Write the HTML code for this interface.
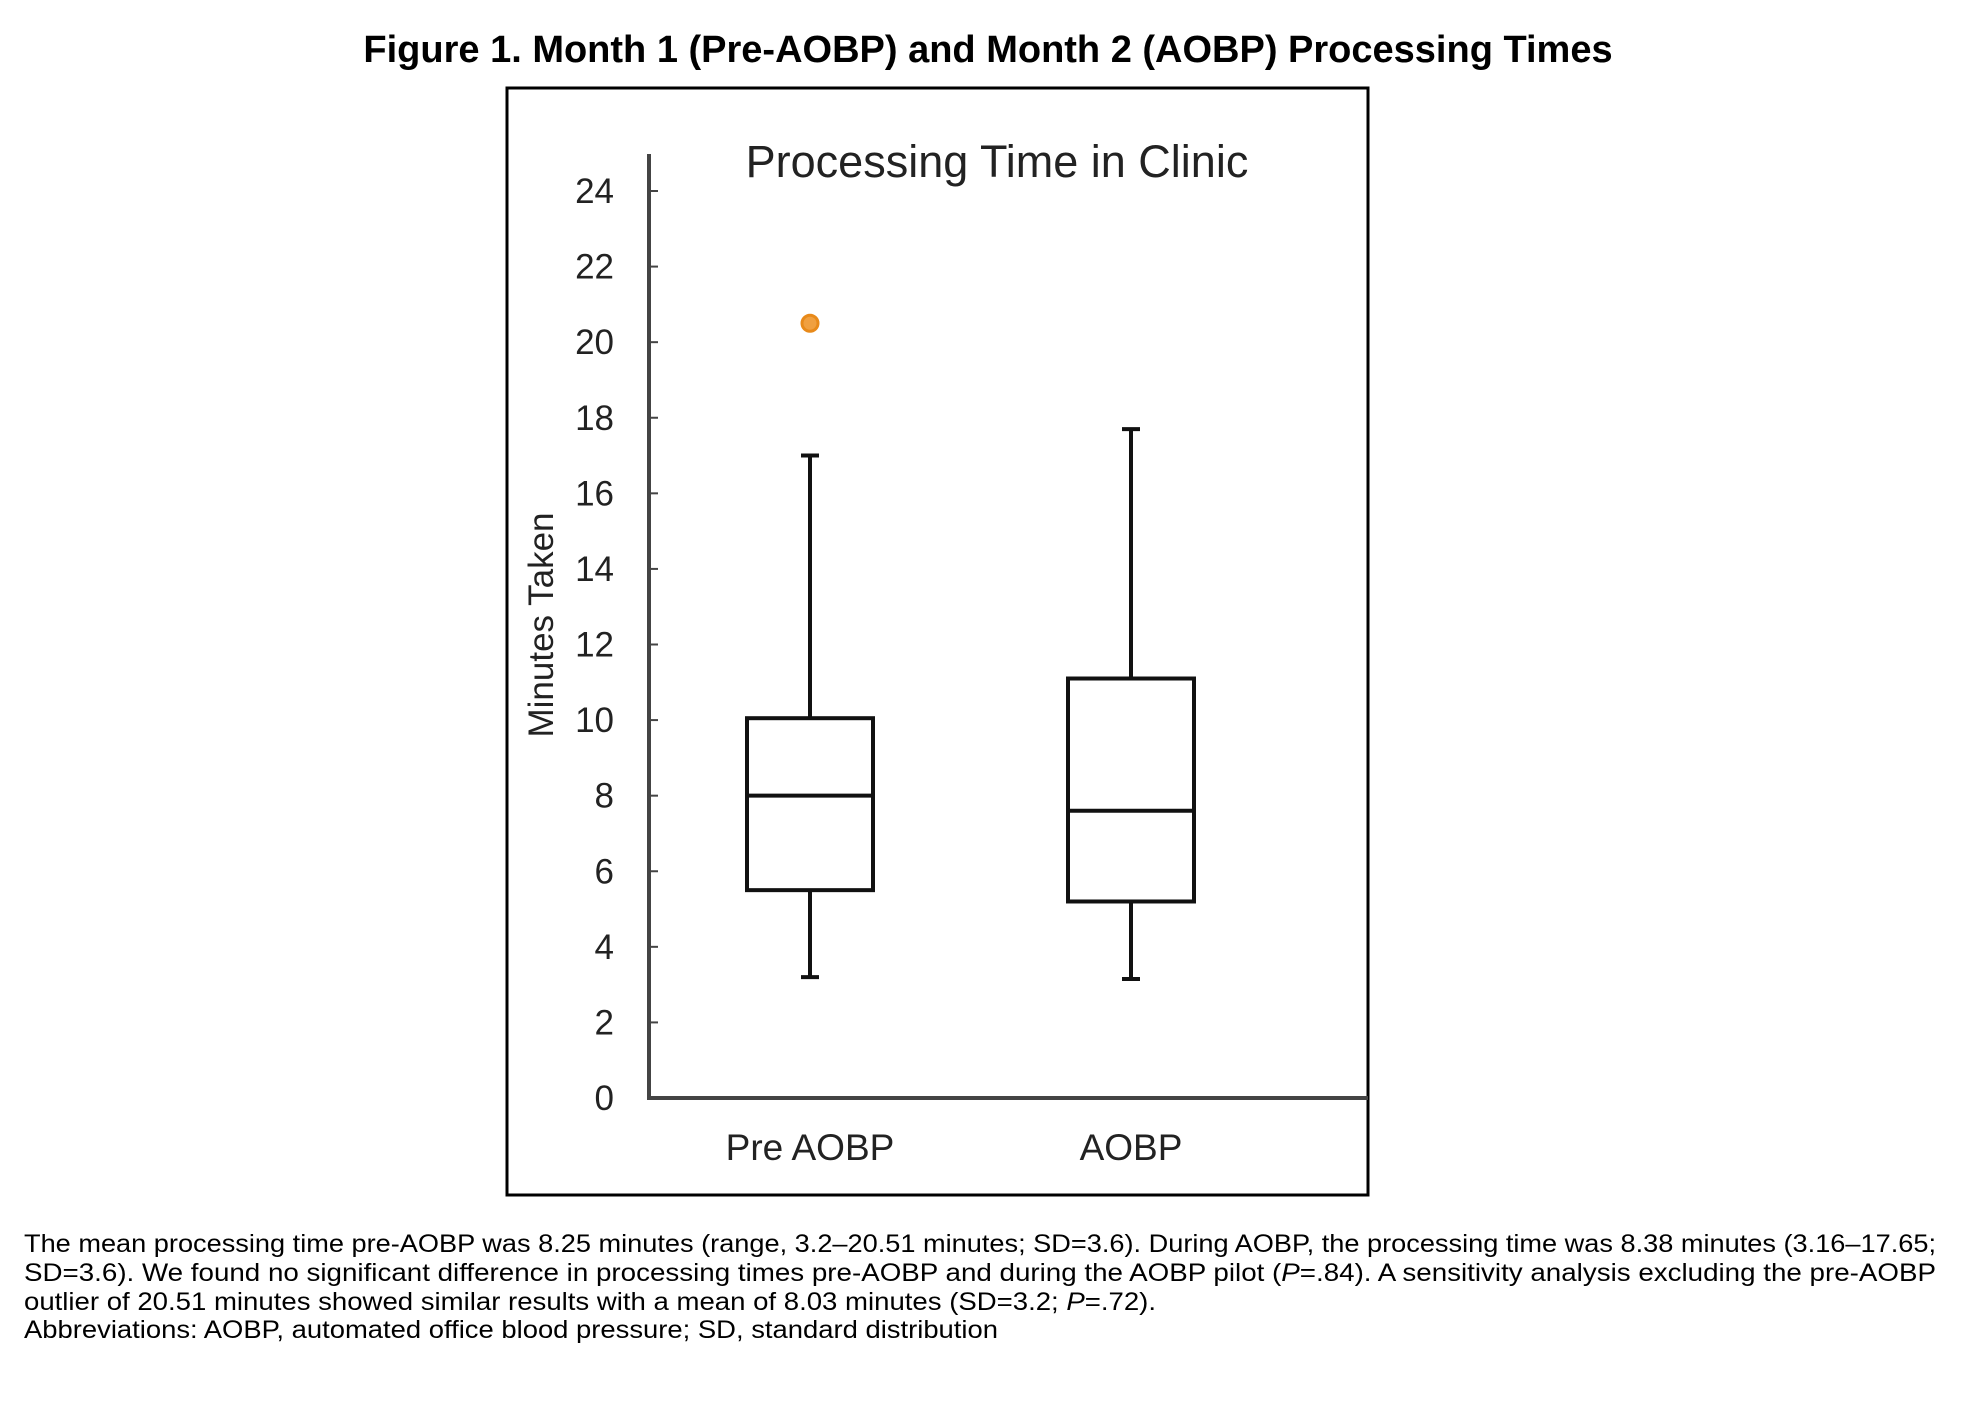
<!DOCTYPE html>
<html><head><meta charset="utf-8"><style>
body{margin:0;background:#fff}
svg{display:block;font-family:"Liberation Sans",Arial,sans-serif}
</style></head><body>
<svg width="1961" height="1409" viewBox="0 0 1961 1409">
<text x="988" y="62" text-anchor="middle" font-size="38" font-weight="bold">Figure 1. Month 1 (Pre-AOBP) and Month 2 (AOBP) Processing Times</text>
<rect x="507" y="88" width="861" height="1107" fill="none" stroke="#000" stroke-width="3"/>
<text x="997" y="177" text-anchor="middle" font-size="45" fill="#222">Processing Time in Clinic</text>
<text transform="translate(553,625) rotate(-90)" text-anchor="middle" font-size="35" fill="#222">Minutes Taken</text>
<g id="axes"></g>
<g id="marks"></g>
<text x="24" y="1252" font-size="25" textLength="1912" lengthAdjust="spacingAndGlyphs">The mean processing time pre-AOBP was 8.25 minutes (range, 3.2–20.51 minutes; SD=3.6). During AOBP, the processing time was 8.38 minutes (3.16–17.65;</text>
<text x="24" y="1281" font-size="25" textLength="1912" lengthAdjust="spacingAndGlyphs">SD=3.6). We found no significant difference in processing times pre-AOBP and during the AOBP pilot (<tspan font-style="italic">P</tspan>=.84). A sensitivity analysis excluding the pre-AOBP</text>
<text x="24" y="1310" font-size="25" textLength="1132" lengthAdjust="spacingAndGlyphs">outlier of 20.51 minutes showed similar results with a mean of 8.03 minutes (SD=3.2; <tspan font-style="italic">P</tspan>=.72).</text>
<text x="24" y="1338" font-size="25" textLength="974" lengthAdjust="spacingAndGlyphs">Abbreviations: AOBP, automated office blood pressure; SD, standard distribution</text>
</svg>
<script>
const categories = ["Pre AOBP", "AOBP"];
const whiskerLow = [3.2, 3.15];
const q1 = [5.5, 5.2];
const median = [8.0, 7.6];
const q3 = [10.05, 11.1];
const whiskerHigh = [17.0, 17.7];
const outliers = [[20.5], []];
const yTicks = [0, 2, 4, 6, 8, 10, 12, 14, 16, 18, 20, 22, 24];

const NS = "http://www.w3.org/2000/svg";
const y = v => 1098 - (v / 24) * (1098 - 191);
const x = i => 810 + i * 321;
function mk(tag, attrs, parent) {
  const e = document.createElementNS(NS, tag);
  for (const k in attrs) e.setAttribute(k, attrs[k]);
  parent.appendChild(e);
  return e;
}
const axes = document.getElementById("axes");
const marks = document.getElementById("marks");
let a = mk("line", {x1: 649, y1: 154, x2: 649, y2: 1098, stroke: "#444", "stroke-width": 4}, axes);


a = mk("line", {x1: 647, y1: 1098, x2: 1368, y2: 1098, stroke: "#444", "stroke-width": 4}, axes);


yTicks.forEach(t => {
  const tk = mk("line", {x1: 649, y1: y(t), x2: 658, y2: y(t), stroke: "#444", "stroke-width": 2}, axes);
  
  
  const lb = mk("text", {x: 614, y: y(t) + 12, "text-anchor": "end", "font-size": 35, fill: "#222"}, axes);
  lb.textContent = t;
  
  
});
categories.forEach((c, i) => {
  const cx = x(i), hw = 63, cw = 9;
  const g = mk("g", {stroke: "#111", "stroke-width": 4, fill: "none"}, marks);
  
  
  mk("line", {x1: cx, y1: y(whiskerHigh[i]), x2: cx, y2: y(q3[i])}, g);
  mk("line", {x1: cx, y1: y(q1[i]), x2: cx, y2: y(whiskerLow[i])}, g);
  mk("line", {x1: cx - cw, y1: y(whiskerHigh[i]), x2: cx + cw, y2: y(whiskerHigh[i])}, g);
  mk("line", {x1: cx - cw, y1: y(whiskerLow[i]), x2: cx + cw, y2: y(whiskerLow[i])}, g);
  mk("rect", {x: cx - hw, y: y(q3[i]), width: 2 * hw, height: y(q1[i]) - y(q3[i])}, g);
  mk("line", {x1: cx - hw, y1: y(median[i]), x2: cx + hw, y2: y(median[i])}, g);
  outliers[i].forEach(v => {
    const o = mk("circle", {cx: cx, cy: y(v), r: 8, fill: "#f0a040", stroke: "#e88a1a", "stroke-width": 3}, marks);
    
    
  });
  const lb = mk("text", {x: cx, y: 1160, "text-anchor": "middle", "font-size": 37, fill: "#222"}, marks);
  lb.textContent = c;
  
  
});
</script>
</body></html>
